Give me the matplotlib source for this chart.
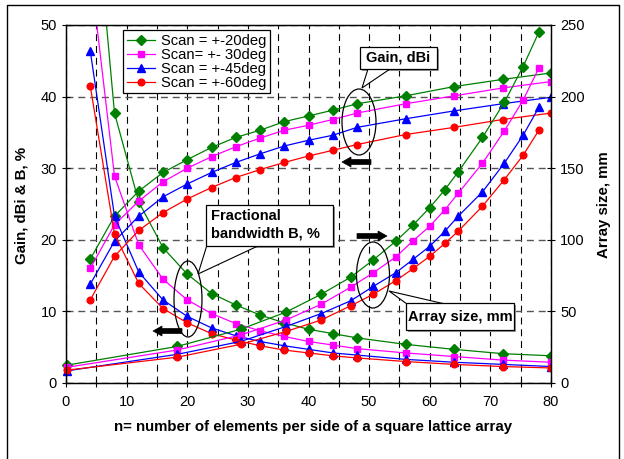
import numpy as np
import matplotlib.pyplot as plt
import matplotlib.transforms as mtransforms
from matplotlib.patches import Ellipse, Rectangle, Polygon
from matplotlib.lines import Line2D

plt.rcParams['font.family'] = ['Liberation Sans', 'DejaVu Sans']
plt.rcParams['lines.scale_dashes'] = False

# gain (dBi) and fractional bandwidth (%) vs n
n_gain = [4, 8, 12, 16, 20, 24, 28, 32, 36, 40, 44, 48, 56, 64, 72, 80]
gain20 = [17.3, 23.3, 26.8, 29.4, 31.2, 32.9, 34.3, 35.3, 36.5, 37.3, 38.1, 39.0, 40.1, 41.4, 42.4, 43.3]
gain30 = [16.0, 22.1, 25.4, 28.1, 30.0, 31.6, 33.0, 34.2, 35.3, 36.0, 36.8, 37.7, 39.0, 40.1, 41.2, 42.1]
gain45 = [13.8, 19.8, 23.3, 26.0, 27.8, 29.4, 30.8, 32.0, 33.1, 33.9, 34.6, 35.7, 36.9, 38.0, 39.0, 39.9]
gain60 = [11.6, 17.7, 21.3, 23.8, 25.7, 27.3, 28.7, 29.8, 30.8, 31.7, 32.5, 33.3, 34.7, 35.7, 36.8, 37.7]

bw20 = [75.0, 37.7, 25.3, 18.9, 15.2, 12.5, 10.9, 9.5, 8.4, 7.5, 6.9, 6.3, 5.4, 4.7, 4.1, 3.8]
bw30 = [57.8, 28.9, 19.3, 14.5, 11.6, 9.7, 8.3, 7.3, 6.5, 5.8, 5.3, 4.8, 4.2, 3.7, 3.2, 2.9]
bw45 = [46.4, 23.3, 15.5, 11.6, 9.3, 7.7, 6.6, 5.8, 5.2, 4.7, 4.2, 3.9, 3.3, 2.9, 2.6, 2.3]
bw60 = [41.5, 20.8, 13.9, 10.4, 8.4, 6.9, 6.0, 5.2, 4.6, 4.2, 3.8, 3.5, 3.0, 2.6, 2.3, 2.1]

# array size (mm), right axis
n_size = [0.2, 18.3, 28.8, 36.3, 42.1, 47.0, 50.7, 54.4, 57.3, 60.0, 62.5, 64.7, 68.7, 72.3, 75.4, 78.0]
size20 = [12.5, 25.5, 37.5, 49.5, 62, 74, 86, 99, 110.5, 122.5, 135, 147.5, 171.5, 196, 221, 245]
size30 = [11, 23, 33.5, 44, 55, 67, 77, 88, 99.5, 109.5, 121, 132.5, 153.5, 176, 197.5, 220]
size45 = [8.5, 20, 29, 39.5, 48.5, 57.5, 67.5, 77, 86.5, 95.5, 106, 116.5, 133.5, 153.5, 173, 192.5]
size60 = [9, 18, 27, 36, 44, 54, 62, 71.5, 80, 88.5, 97.5, 106, 123.5, 142, 159, 176.5]

labels = ['Scan = +-20deg', 'Scan= +- 30deg', 'Scan = +-45deg', 'Scan = +-60deg']
colors = ['#008000', '#ff00ff', '#0000ff', '#ff0000']
markers = ['D', 's', '^', 'o']
msizes = [5, 4.5, 6, 4.8]

W, H = 624, 459
fig = plt.figure(figsize=(W / 100, H / 100), dpi=100)
ax = fig.add_axes([66 / W, 1 - 383 / H, (551 - 66) / W, (383 - 25) / H])
ax2 = ax.twinx()
# pixel coords (origin top-left) -> figure
px = mtransforms.Affine2D().scale(1 / W, -1 / H).translate(0, 1) + fig.transFigure

handles = []
for g, b, s, lab, c, m, ms in zip([gain20, gain30, gain45, gain60], [bw20, bw30, bw45, bw60],
                                  [size20, size30, size45, size60], labels, colors, markers, msizes):
    h, = ax.plot(n_gain, g, color=c, marker=m, ms=ms, lw=0.9, label=lab)
    ax.plot(n_gain, b, color=c, marker=m, ms=ms, lw=0.9)
    ax2.plot(n_size, s, color=c, marker=m, ms=ms, lw=0.9, clip_on=False)
    handles.append(h)

ax.set_xlim(0, 80)
ax.set_ylim(0, 50)
ax2.set_ylim(0, 250)
ax.set_xticks(range(0, 81, 10))
ax.set_xticks(range(0, 81, 5), minor=True)
ax.set_yticks(range(0, 51, 10))
ax2.set_yticks(range(0, 251, 50))
for a in (ax, ax2):
    a.tick_params(which='both', direction='inout', length=6, width=0.8, labelsize=10.5, colors='black')
    for sp in a.spines.values():
        sp.set_linewidth(0.9)
ax.tick_params(axis='x', pad=6)

ax.set_axisbelow(True)
ax.grid(axis='x', which='both', color='black', linestyle=(0, (5, 3.5)), lw=0.8)
ax.grid(axis='y', color='#555555', linestyle=(0, (5, 3.5)), lw=1.0)

fig.text(22 / W, 1 - 205 / H, 'Gain, dBi & B, %', rotation=90, ha='center', va='center',
         fontsize=10.8, fontweight='bold')
fig.text(604 / W, 1 - 205 / H, 'Array size, mm', rotation=90, ha='center', va='center',
         fontsize=10.8, fontweight='bold')
fig.text(313 / W, 1 - 427 / H, 'n= number of elements per side of a square lattice array',
         ha='center', va='center', fontsize=10.8, fontweight='bold')

leg = ax2.legend(handles=handles, loc='upper left', bbox_to_anchor=(123 / W, 1 - 30 / H),
                 bbox_transform=fig.transFigure, fancybox=False, edgecolor='black', framealpha=1,
                 fontsize=10.6, handlelength=1.9, handletextpad=0.4, labelspacing=0.0,
                 borderpad=0.25, borderaxespad=0)
leg.get_frame().set_linewidth(0.9)


def callout(box, wedge, text, lines_left=None):
    x0, y0, x1, y1 = box
    fig.add_artist(Rectangle((x0 + 2, y0 + 2), x1 - x0, y1 - y0, transform=px,
                             fc='#999999', ec='none', zorder=20))
    fig.add_artist(Polygon(wedge, closed=True, transform=px, fc='white', ec='black', lw=0.8, zorder=21))
    fig.add_artist(Rectangle((x0, y0), x1 - x0, y1 - y0, transform=px, fc='white', ec='black',
                             lw=0.9, zorder=22))
    if lines_left is None:
        fig.text((x0 + x1) / 2 / W, 1 - (y0 + y1) / 2 / H, text, ha='center', va='center',
                 fontsize=10.5, fontweight='bold', zorder=23)
    else:
        for t, yy in zip(text, lines_left[1]):
            fig.text(lines_left[0] / W, 1 - yy / H, t, ha='left', va='center',
                     fontsize=10.5, fontweight='bold', zorder=23)


def arrow(x_tip, y, length, direction):
    d = direction
    hl, hh, bh = 9, 5, 2.5
    pts = [(x_tip, y), (x_tip + d * hl, y - hh), (x_tip + d * hl, y - bh), (x_tip + d * length, y - bh),
           (x_tip + d * length, y + bh), (x_tip + d * hl, y + bh), (x_tip + d * hl, y + hh)]
    fig.add_artist(Polygon(pts, closed=True, transform=px, fc='black', ec='black', lw=0.5, zorder=20))


for cx, cy, w, h in [(359, 122, 34, 66), (188, 299, 28, 76), (373, 275, 33, 66)]:
    fig.add_artist(Ellipse((cx, cy), w, h, transform=px, fill=False, ec='black', lw=0.9, zorder=19))

callout((360, 47, 437, 69), [(368, 69), (362, 88), (390, 69)], 'Gain, dBi')
callout((206, 205, 333, 246), [(207, 245), (198, 274), (260, 245)],
        ['Fractional', 'bandwidth B, %'], lines_left=(211, [216, 234]))
callout((406, 303, 514, 330), [(407, 304), (389, 291), (445, 304)], 'Array size, mm')

arrow(342, 162, 29, 1)
arrow(153, 331, 29, 1)
arrow(387, 236, 30, -1)

# outer frame of the chart area
fig.add_artist(Line2D([7, 7, 619, 619], [H + 5, 5, 5, H + 5], transform=px, color='black', lw=1.0))

fig.savefig('out.png', dpi=100)
